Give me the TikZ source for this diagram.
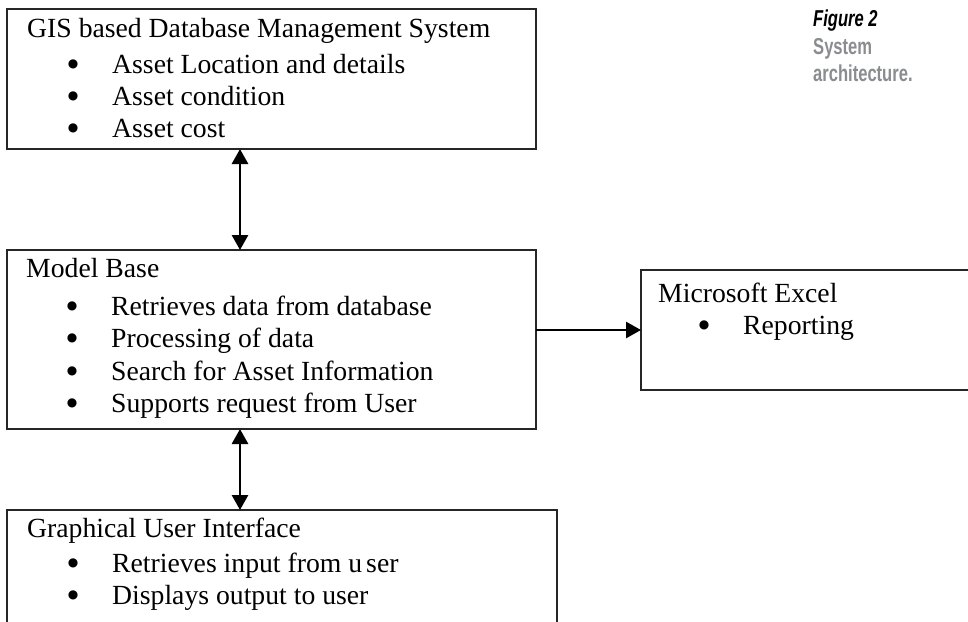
\documentclass[tikz,border=0pt]{standalone}
\usepackage{fontspec}
\setmainfont{Liberation Serif}
\newfontfamily\capfont[FakeStretch=0.72]{Liberation Sans}
\newfontfamily\bulfont{DejaVu Sans}
\usetikzlibrary{arrows.meta}
\newcommand\bitem{\hspace*{40pt}\makebox[12pt]{\raisebox{5.5pt}{\bulfont\fontsize{12}{12}\selectfont ●}}\hspace*{33pt}}
\definecolor{capgray}{RGB}{138,140,143}
\begin{document}
\begin{tikzpicture}[x=1pt,y=-1pt,
  box/.style={draw=black!85, line width=1.6pt, anchor=north west, inner sep=0pt, outer sep=0pt},
  txt/.style={anchor=base west, inner sep=0pt, font=\fontsize{27.7}{32}\selectfont},
  captxt/.style={anchor=base west, inner sep=0pt, font=\capfont\bfseries\fontsize{23}{27}\selectfont},
  link/.style={line width=2.8pt, {Triangle[length=15pt,width=16pt]}-{Triangle[length=15pt,width=16pt]}},
  onelink/.style={line width=2.8pt, -{Triangle[length=15pt,width=16pt]}}]
\useasboundingbox (0,0) rectangle (968,621);
\clip (0,0) rectangle (968,621);
\fill[white] (0,0) rectangle (968,621);

% boxes
\node[box, minimum width=529pt, minimum height=140pt] (gis) at (7,9) {};
\node[box, minimum width=529pt, minimum height=179pt] (mb) at (7,250) {};
\node[box, minimum width=550pt, minimum height=150pt] (gui) at (7,510) {};
\node[box, minimum width=360pt, minimum height=120pt] (xl) at (641,270) {};

% texts
\node[txt] (g0) at (27,37) {GIS based Database Management System};
\node[txt] (g1) at (27,73) {\bitem Asset Location and details};
\node[txt] (g2) at (27,105) {\bitem Asset condition};
\node[txt] (g3) at (27,137) {\bitem Asset cost};

\node[txt] (m0) at (26,277) {Model Base};
\node[txt] (m1) at (26,315) {\bitem Retrieves data from database};
\node[txt] (m2) at (26,347) {\bitem Processing of data};
\node[txt] (m3) at (26,380) {\bitem Search for Asset Information};
\node[txt] (m4) at (26,412) {\bitem Supports request from User};

\node[txt] (u0) at (27,537) {Graphical User Interface};
\node[txt] (u1) at (27,572) {\bitem Retrieves input from u\kern4pt ser};
\node[txt] (u2) at (27,604) {\bitem Displays output to user};

\node[txt] (x0) at (658,302) {Microsoft Excel};
\node[txt] (x1) at (658,334) {\bitem Reporting};

% caption
\node[captxt] (fig) at (813,27) {\itshape Figure 2};
\node[captxt, text=capgray] (c1) at (813,54) {System};
\node[captxt, text=capgray] (c2) at (813,81) {architecture.};

% connectors
\coordinate (ax) at (240,0);
\coordinate (ay) at (0,330);
\draw[link] (gis.south -| ax) -- (mb.north -| ax);
\draw[link] (mb.south -| ax) -- (gui.north -| ax);
\draw[onelink] (mb.east |- ay) -- (xl.west |- ay);
\end{tikzpicture}
\end{document}
